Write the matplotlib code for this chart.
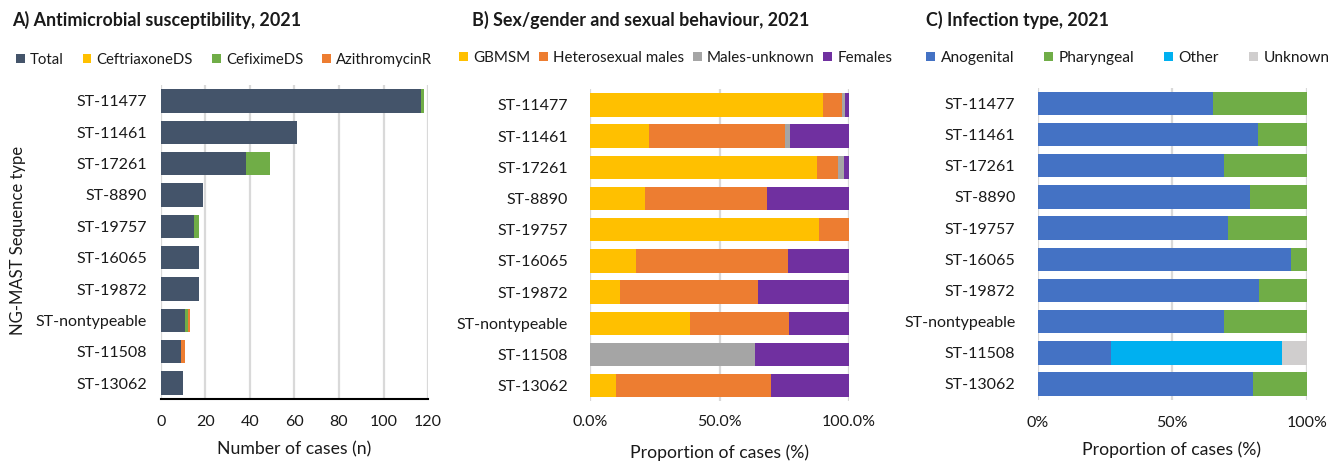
import matplotlib
matplotlib.use("Agg")
import matplotlib.pyplot as plt
import numpy as np
from matplotlib.patches import Patch

plt.rcParams['font.family'] = ['Lato', 'DejaVu Sans']
plt.rcParams['text.color'] = '#1a1a1a'
plt.rcParams['xtick.color'] = '#1a1a1a'
plt.rcParams['ytick.color'] = '#1a1a1a'

# sequence types, top to bottom
seq_types = ['ST-11477', 'ST-11461', 'ST-17261', 'ST-8890', 'ST-19757',
             'ST-16065', 'ST-19872', 'ST-nontypeable', 'ST-11508', 'ST-13062']

# A) antimicrobial susceptibility (counts, stacked)
amr_labels = ['Total', 'CeftriaxoneDS', 'CefiximeDS', 'AzithromycinR']
amr_total = [117, 61, 38, 19, 15, 17, 17, 11, 9, 10]
amr_ceftriaxone = [0, 0, 0, 0, 0, 0, 0, 0, 0, 0]
amr_cefixime = [1, 0, 11, 0, 2, 0, 0, 1, 0, 0]
amr_azithro = [0, 0, 0, 0, 0, 0, 0, 1, 2, 0]
amr_colors = ['#44546A', '#FFC000', '#70AD47', '#ED7D31']

# B) sex/gender and sexual behaviour (counts)
sex_labels = ['GBMSM', 'Heterosexual males', 'Males-unknown', 'Females']
sex_gbmsm = [106, 14, 43, 4, 15, 3, 2, 5, 0, 1]
sex_hetero = [9, 32, 4, 9, 2, 10, 9, 5, 0, 6]
sex_unknown = [1, 1, 1, 0, 0, 0, 0, 0, 7, 0]
sex_female = [2, 14, 1, 6, 0, 4, 6, 3, 4, 3]
sex_colors = ['#FFC000', '#ED7D31', '#A5A5A5', '#7030A0']

# C) infection type (counts)
inf_labels = ['Anogenital', 'Pharyngeal', 'Other', 'Unknown']
inf_anogenital = [77, 50, 34, 15, 12, 16, 14, 9, 3, 8]
inf_pharyngeal = [41, 11, 15, 4, 5, 1, 3, 4, 0, 2]
inf_other = [0, 0, 0, 0, 0, 0, 0, 0, 7, 0]
inf_unknown = [0, 0, 0, 0, 0, 0, 0, 0, 1, 0]
inf_colors = ['#4472C4', '#70AD47', '#00B0F0', '#D0CECE']

GRID = '#D9D9D9'
FS = 11.5      # tick labels
LFS = 12.7     # axis labels
TFS = 12.9     # panel titles


def stacked(ax, series, colors, height=0.74):
    y = np.arange(len(seq_types))
    left = np.zeros(len(seq_types))
    for vals, c in zip(series, colors):
        vals = np.asarray(vals, dtype=float)
        ax.barh(y, vals, left=left, height=height, color=c, zorder=3)
        left += vals
    ax.set_yticks(y)
    ax.set_yticklabels(seq_types, fontsize=FS)
    ax.set_ylim(len(seq_types) - 0.5, -0.5)
    ax.tick_params(axis='both', length=0)
    ax.grid(axis='x', color=GRID, linewidth=1.6, zorder=0)
    for s in ax.spines.values():
        s.set_visible(False)


def prop(*cols):
    arr = np.array(cols, dtype=float)
    return arr / arr.sum(axis=0)


fig = plt.figure(figsize=(13.28, 4.61), dpi=100)

# panel A
axA = fig.add_axes([0.1212, 0.1351, 0.2011, 0.6799])
stacked(axA, [amr_total, amr_ceftriaxone, amr_cefixime, amr_azithro], amr_colors)
axA.set_xlim(0, 120)
axA.set_xticks(np.arange(0, 121, 20))
axA.tick_params(axis='x', labelsize=FS, pad=12)
axA.tick_params(axis='y', pad=10)
axA.spines['bottom'].set_visible(True)
axA.spines['bottom'].set_color('black')
axA.spines['bottom'].set_linewidth(1.5)

# panel B
axB = fig.add_axes([0.4443, 0.1295, 0.1950, 0.6766])
stacked(axB, prop(sex_gbmsm, sex_hetero, sex_unknown, sex_female), sex_colors, height=0.75)
axB.set_xlim(0, 1)
axB.set_xticks([0, 0.5, 1])
axB.set_xticklabels(['0.0%', '50.0%', '100.0%'])
axB.tick_params(axis='x', labelsize=FS, pad=10)
axB.tick_params(axis='y', pad=16)

# panel C
axC = fig.add_axes([0.7814, 0.1332, 0.2026, 0.6766])
stacked(axC, prop(inf_anogenital, inf_pharyngeal, inf_other, inf_unknown), inf_colors, height=0.75)
axC.set_xlim(0, 1)
axC.set_xticks([0, 0.5, 1])
axC.set_xticklabels(['0%', '50%', '100%'])
axC.tick_params(axis='x', labelsize=FS, pad=12)
axC.tick_params(axis='y', pad=16)

# titles
fig.text(12 / 1328, 1 - 20 / 461, 'A) Antimicrobial susceptibility, 2021',
         fontsize=TFS, fontweight='bold', ha='left', va='center')
fig.text(472 / 1328, 1 - 20 / 461, 'B) Sex/gender and sexual behaviour, 2021',
         fontsize=TFS, fontweight='bold', ha='left', va='center')
fig.text(926 / 1328, 1 - 20 / 461, 'C) Infection type, 2021',
         fontsize=TFS, fontweight='bold', ha='left', va='center')

# axis labels
fig.text(294 / 1328, 1 - 449 / 461, 'Number of cases (n)', fontsize=LFS, ha='center', va='center')
fig.text(719 / 1328, 1 - 453 / 461, 'Proportion of cases (%)', fontsize=LFS, ha='center', va='center')
fig.text(1172 / 1328, 1 - 450 / 461, 'Proportion of cases (%)', fontsize=LFS, ha='center', va='center')
fig.text(18 / 1328, 1 - 240 / 461, 'NG-MAST Sequence type', fontsize=12,
         rotation=90, ha='center', va='center')


def legend(labels, colors, x, y, size, spacing):
    handles = [Patch(facecolor=c, edgecolor='none') for c in colors]
    fig.legend(handles, labels, loc='center left', bbox_to_anchor=(x / 1328, 1 - y / 461),
               ncol=4, frameon=False, fontsize=size, handlelength=0.6, handleheight=0.6,
               handletextpad=0.35, columnspacing=spacing, borderpad=0, borderaxespad=0)


legend(amr_labels, amr_colors, 16, 60, 10.7, 1.25)
legend(sex_labels, sex_colors, 459, 58, 10.9, 0.55)
legend(inf_labels, inf_colors, 926, 58, 11.2, 1.9)

fig.savefig('out.png', dpi=100)
